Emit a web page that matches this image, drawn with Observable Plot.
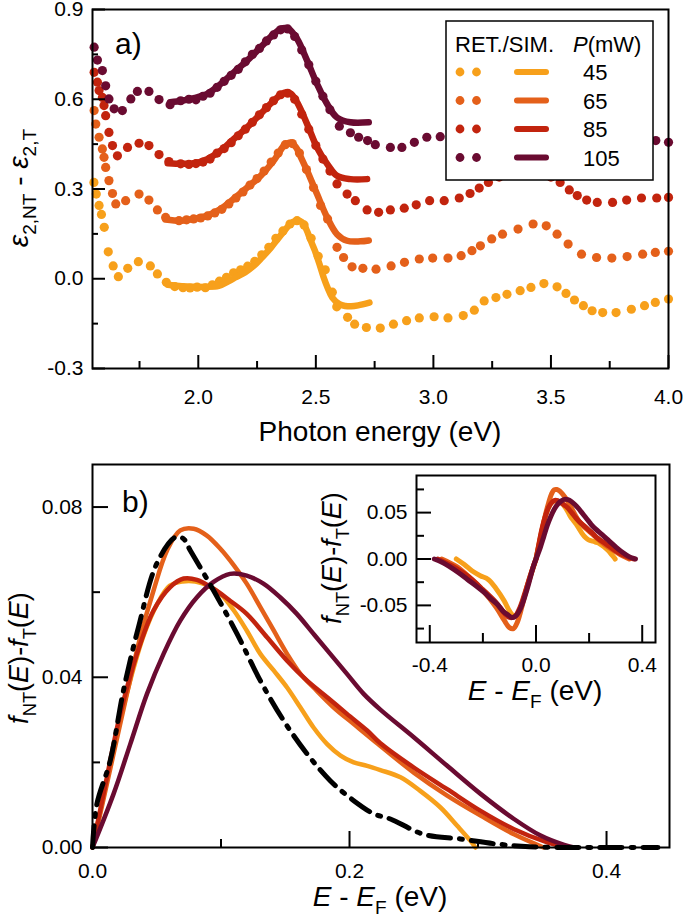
<!DOCTYPE html>
<html><head><meta charset="utf-8">
<script src="https://cdn.jsdelivr.net/npm/d3@7"></script>
<script src="https://cdn.jsdelivr.net/npm/@observablehq/plot@0.6"></script>
<style>
body{margin:0;background:#fff;}
#wrap{position:relative;width:685px;height:918px;overflow:hidden;}
#wrap svg{position:absolute;overflow:visible;max-width:none;}
</style></head><body><div id="wrap"></div>
<script>
const FONT = "'Liberation Sans', Arial, sans-serif";
const powers = ["45", "65", "85", "105"];
const colors = ["#f7a01b", "#e4601a", "#c2240e", "#6a0b31"];

// ---------- panel a: retrieved (dots) ----------
const aDots45 = [[1.556,0.322],[1.566,0.283],[1.578,0.245],[1.588,0.215],[1.600,0.172],[1.617,0.090],[1.638,0.043],[1.660,0.007],[1.700,0.035],[1.745,0.057],[1.796,0.043],[1.826,0.016],[1.864,-0.012],[1.900,-0.026],[1.935,-0.030],[1.965,-0.031],[1.995,-0.028],[2.030,-0.030],[2.060,-0.020],[2.090,-0.008],[2.120,0.005],[2.150,0.020],[2.180,0.030],[2.210,0.042],[2.240,0.058],[2.270,0.080],[2.300,0.105],[2.330,0.135],[2.360,0.160],[2.390,0.183],[2.420,0.194],[2.450,0.180],[2.480,0.135],[2.510,0.075],[2.540,0.030],[2.570,-0.045],[2.589,-0.094],[2.635,-0.129],[2.665,-0.152],[2.715,-0.163],[2.774,-0.165],[2.830,-0.152],[2.886,-0.140],[2.940,-0.131],[3.003,-0.127],[3.062,-0.131],[3.127,-0.123],[3.174,-0.105],[3.216,-0.074],[3.266,-0.063],[3.313,-0.052],[3.369,-0.040],[3.415,-0.029],[3.470,-0.016],[3.526,-0.027],[3.564,-0.049],[3.600,-0.071],[3.638,-0.090],[3.675,-0.107],[3.720,-0.113],[3.777,-0.113],[3.842,-0.102],[3.898,-0.090],[3.944,-0.079],[4.000,-0.068]];
const aDots65 = [[1.557,0.562],[1.564,0.517],[1.578,0.473],[1.592,0.434],[1.599,0.406],[1.606,0.372],[1.620,0.328],[1.635,0.285],[1.649,0.250],[1.691,0.261],[1.748,0.283],[1.790,0.263],[1.826,0.230],[1.861,0.205],[1.918,0.194],[1.950,0.197],[1.980,0.200],[2.010,0.203],[2.040,0.210],[2.070,0.220],[2.100,0.232],[2.130,0.250],[2.160,0.270],[2.190,0.290],[2.220,0.313],[2.250,0.335],[2.280,0.360],[2.310,0.390],[2.340,0.420],[2.370,0.448],[2.400,0.452],[2.430,0.420],[2.460,0.365],[2.490,0.305],[2.520,0.245],[2.550,0.200],[2.590,0.105],[2.618,0.071],[2.654,0.040],[2.700,0.035],[2.756,0.032],[2.820,0.043],[2.877,0.055],[2.940,0.066],[2.997,0.069],[3.062,0.069],[3.118,0.077],[3.164,0.094],[3.200,0.110],[3.248,0.133],[3.294,0.149],[3.360,0.166],[3.424,0.183],[3.480,0.177],[3.526,0.149],[3.573,0.116],[3.630,0.082],[3.694,0.071],[3.759,0.069],[3.824,0.074],[3.890,0.082],[3.944,0.088],[4.000,0.092]];
const aDots85 = [[1.557,0.690],[1.571,0.657],[1.578,0.629],[1.592,0.606],[1.599,0.579],[1.606,0.545],[1.620,0.489],[1.635,0.445],[1.656,0.411],[1.699,0.439],[1.748,0.453],[1.790,0.445],[1.833,0.415],[1.875,0.392],[1.925,0.384],[1.960,0.382],[1.990,0.385],[2.020,0.390],[2.050,0.400],[2.080,0.420],[2.110,0.435],[2.140,0.455],[2.170,0.478],[2.200,0.500],[2.230,0.523],[2.260,0.548],[2.290,0.572],[2.320,0.595],[2.350,0.615],[2.380,0.620],[2.410,0.600],[2.440,0.550],[2.470,0.500],[2.500,0.445],[2.530,0.400],[2.560,0.360],[2.590,0.317],[2.633,0.283],[2.668,0.261],[2.718,0.230],[2.767,0.222],[2.817,0.230],[2.876,0.236],[2.927,0.247],[2.984,0.261],[3.046,0.261],[3.110,0.270],[3.156,0.285],[3.195,0.303],[3.234,0.322],[3.280,0.340],[3.340,0.355],[3.400,0.360],[3.460,0.355],[3.500,0.340],[3.539,0.322],[3.578,0.297],[3.612,0.278],[3.652,0.263],[3.697,0.255],[3.762,0.255],[3.822,0.263],[3.885,0.270],[3.950,0.270],[4.000,0.272]];
const aDots105 = [[1.557,0.774],[1.571,0.731],[1.592,0.696],[1.606,0.645],[1.620,0.601],[1.642,0.568],[1.677,0.562],[1.713,0.601],[1.741,0.626],[1.790,0.626],[1.833,0.599],[1.880,0.582],[1.925,0.595],[1.960,0.600],[1.990,0.598],[2.020,0.610],[2.050,0.620],[2.080,0.640],[2.110,0.660],[2.140,0.680],[2.170,0.700],[2.200,0.725],[2.230,0.750],[2.260,0.770],[2.290,0.795],[2.320,0.815],[2.350,0.832],[2.380,0.835],[2.410,0.810],[2.440,0.765],[2.470,0.715],[2.500,0.660],[2.530,0.610],[2.560,0.565],[2.600,0.510],[2.647,0.488],[2.682,0.473],[2.720,0.462],[2.753,0.448],[2.817,0.439],[2.866,0.439],[2.919,0.456],[2.972,0.473],[3.029,0.475],[3.090,0.480],[3.150,0.490],[3.220,0.510],[3.300,0.530],[3.380,0.545],[3.450,0.545],[3.520,0.520],[3.600,0.480],[3.680,0.455],[3.760,0.450],[3.840,0.455],[3.900,0.460],[3.946,0.462],[4.000,0.456]];

// ---------- panel a: simulated (lines) ----------
const aSim45 = [[1.870,-0.020],[1.930,-0.025],[1.980,-0.027],[2.030,-0.027],[2.087,-0.024],[2.130,-0.008],[2.160,0.005],[2.200,0.022],[2.236,0.043],[2.270,0.070],[2.310,0.105],[2.340,0.135],[2.366,0.160],[2.385,0.178],[2.403,0.190],[2.425,0.195],[2.440,0.190],[2.459,0.166],[2.477,0.130],[2.496,0.094],[2.515,0.050],[2.533,0.005],[2.550,-0.030],[2.570,-0.063],[2.600,-0.085],[2.626,-0.091],[2.650,-0.092],[2.680,-0.089],[2.728,-0.080]];
const aSim65 = [[1.860,0.198],[1.930,0.194],[1.980,0.200],[2.038,0.211],[2.095,0.233],[2.151,0.267],[2.208,0.305],[2.265,0.344],[2.321,0.395],[2.350,0.430],[2.364,0.445],[2.380,0.453],[2.395,0.455],[2.410,0.445],[2.420,0.434],[2.440,0.400],[2.463,0.361],[2.505,0.283],[2.548,0.205],[2.590,0.149],[2.633,0.127],[2.689,0.125],[2.725,0.128]];
const aSim85 = [[1.870,0.386],[1.930,0.384],[1.981,0.386],[2.038,0.400],[2.095,0.428],[2.151,0.467],[2.208,0.506],[2.265,0.551],[2.321,0.595],[2.350,0.615],[2.375,0.623],[2.395,0.618],[2.420,0.590],[2.463,0.517],[2.505,0.439],[2.548,0.384],[2.590,0.344],[2.647,0.333],[2.718,0.333]];
const aSim105 = [[1.880,0.590],[1.930,0.595],[1.981,0.604],[2.038,0.618],[2.095,0.651],[2.151,0.690],[2.208,0.729],[2.265,0.774],[2.321,0.818],[2.350,0.835],[2.370,0.838],[2.385,0.835],[2.420,0.802],[2.463,0.729],[2.505,0.651],[2.548,0.584],[2.590,0.539],[2.647,0.523],[2.725,0.523]];

const aXDomain = [1.55, 4.0];
const aYDomain = [-0.3, 0.9];
const aXMajor = [2.0, 2.5, 3.0, 3.5, 4.0];
const aXMinor = [1.75, 2.25, 2.75, 3.25, 3.75];
const aYMajor = [-0.3, 0.0, 0.3, 0.6, 0.9];
const aYMinor = [-0.15, 0.15, 0.45, 0.75];

// ---------- panel b: f_NT - f_T ----------
const b45 = [[0,0],[0.005,0.007],[0.012,0.017],[0.020,0.028],[0.030,0.040],[0.040,0.050],[0.050,0.057],[0.060,0.0615],[0.070,0.0625],[0.080,0.0625],[0.090,0.0615],[0.0995,0.0596],[0.110,0.0557],[0.120,0.051],[0.1306,0.0455],[0.141,0.0416],[0.1514,0.0376],[0.1618,0.0329],[0.172,0.0282],[0.1826,0.0243],[0.193,0.0216],[0.2033,0.020],[0.2137,0.0192],[0.224,0.0182],[0.2397,0.0165],[0.255,0.0133],[0.2708,0.0094],[0.2838,0.0051],[0.294,0.0016],[0.298,0]];
const b65 = [[0,0],[0.006,0.0079],[0.0164,0.022],[0.0268,0.0361],[0.0371,0.0494],[0.0475,0.0604],[0.058,0.0698],[0.0683,0.0745],[0.0787,0.0749],[0.089,0.0733],[0.0995,0.0702],[0.110,0.0663],[0.120,0.062],[0.1306,0.0565],[0.141,0.051],[0.1514,0.0455],[0.1618,0.0408],[0.172,0.0376],[0.1877,0.0329],[0.2033,0.029],[0.219,0.0251],[0.250,0.0176],[0.276,0.0122],[0.302,0.0075],[0.328,0.0031],[0.351,0]];
const b85 = [[0,0],[0.0086,0.0126],[0.0216,0.0314],[0.0346,0.0455],[0.0475,0.0557],[0.0605,0.0612],[0.0709,0.0632],[0.0813,0.0629],[0.0942,0.0608],[0.107,0.058],[0.120,0.0549],[0.1358,0.0494],[0.1514,0.0439],[0.167,0.0392],[0.1826,0.0353],[0.198,0.0314],[0.2137,0.0275],[0.224,0.0245],[0.250,0.0188],[0.276,0.0137],[0.302,0.0086],[0.328,0.0043],[0.354,0.0012],[0.3695,0]];
const b105 = [[0,0],[0.0164,0.0126],[0.0294,0.0243],[0.0424,0.0361],[0.0553,0.0455],[0.0683,0.0533],[0.0813,0.0588],[0.0942,0.0624],[0.107,0.0643],[0.120,0.0639],[0.133,0.062],[0.146,0.0588],[0.159,0.0549],[0.172,0.0502],[0.185,0.0455],[0.198,0.0408],[0.211,0.0361],[0.224,0.0324],[0.250,0.0259],[0.276,0.0192],[0.302,0.0126],[0.328,0.0067],[0.3487,0.0028],[0.367,0.0006],[0.3746,0]];
const bThermal = [[0,0],[0.0034,0.0102],[0.0138,0.0204],[0.0241,0.0369],[0.0358,0.0518],[0.050,0.0667],[0.0644,0.0729],[0.0706,0.0726],[0.0761,0.0698],[0.0942,0.0604],[0.1125,0.0502],[0.1306,0.0392],[0.1488,0.0298],[0.167,0.022],[0.185,0.0157],[0.2033,0.011],[0.219,0.0079],[0.2318,0.0067],[0.2578,0.0031],[0.2864,0.002],[0.315,0.0008],[0.340,0.0002],[0.370,0],[0.440,0]];
const bXDomain = [0, 0.449];
const bYDomain = [0, 0.09];
const bXMajor = [0.0, 0.2, 0.4];
const bXMinor = [0.1, 0.3];
const bYMajor = [0.0, 0.04, 0.08];
const bYMinor = [0.02, 0.06];

// ---------- inset: negative energy side ----------
const in45neg = [[-0.300,0],[-0.270,-0.006],[-0.240,-0.013],[-0.210,-0.018],[-0.180,-0.022],[-0.150,-0.032],[-0.120,-0.045],[-0.100,-0.056],[-0.085,-0.061],[-0.070,-0.060],[-0.050,-0.046],[-0.030,-0.027],[-0.010,-0.009],[0,0]];
const in65neg = [[-0.355,0],[-0.300,-0.008],[-0.250,-0.020],[-0.200,-0.034],[-0.150,-0.052],[-0.120,-0.066],[-0.100,-0.074],[-0.085,-0.075],[-0.070,-0.068],[-0.050,-0.048],[-0.030,-0.026],[-0.010,-0.008],[0,0]];
const in85neg = [[-0.370,0],[-0.300,-0.010],[-0.250,-0.020],[-0.200,-0.033],[-0.150,-0.047],[-0.120,-0.058],[-0.100,-0.063],[-0.080,-0.062],[-0.060,-0.052],[-0.040,-0.035],[-0.020,-0.017],[0,0]];
const in105neg = [[-0.383,0],[-0.350,-0.004],[-0.321,-0.009],[-0.290,-0.015],[-0.258,-0.022],[-0.225,-0.029],[-0.195,-0.036],[-0.170,-0.043],[-0.145,-0.049],[-0.125,-0.056],[-0.107,-0.060],[-0.090,-0.063],[-0.075,-0.061],[-0.057,-0.0525],[-0.032,-0.031],[-0.010,-0.008],[0,0]];
const inXDomain = [-0.45, 0.45];
const inYDomain = [-0.09, 0.09];
const inXMajor = [-0.4, 0.0, 0.4];
const inXMinor = [-0.2, 0.2];
const inYMajor = [-0.05, 0.0, 0.05];
const inYMinor = [-0.075, -0.025, 0.025, 0.075];

// ---------- build tables ----------
const rows = (pairs, P) => pairs.map(([E, v]) => ({E, v, P}));
const aDots = [...rows(aDots45, "45"), ...rows(aDots65, "65"), ...rows(aDots85, "85"), ...rows(aDots105, "105")];
const aLines = [...rows(aSim45, "45"), ...rows(aSim65, "65"), ...rows(aSim85, "85"), ...rows(aSim105, "105")];
const bLines = [...rows(b45, "45"), ...rows(b65, "65"), ...rows(b85, "85"), ...rows(b105, "105")];
const bTh = rows(bThermal, "T");
const inLines = [
  ...rows(in45neg, "45"), ...rows(b45, "45"),
  ...rows(in65neg, "65"), ...rows(b65, "65"),
  ...rows(in85neg, "85"), ...rows(b85, "85"),
  ...rows(in105neg, "105"), ...rows(b105, "105")
];

const style = {fontFamily: FONT, fontSize: "21px", color: "black", background: "transparent", overflow: "visible"};
const color = {domain: powers, range: colors};
const TICK_FS = 21;
function axes(xMaj, xMin, yMaj, yMin, o) {
  return [
    Plot.axisY(yMaj, {anchor: "left", tickSize: -o.yMaj, strokeWidth: 2, tickFormat: () => "", label: null}),
    Plot.axisY(yMin, {anchor: "left", tickSize: -o.yMin, strokeWidth: 2, tickFormat: () => "", label: null}),
    Plot.axisX(xMaj, {anchor: "bottom", tickSize: -o.xMaj, strokeWidth: 2, tickFormat: () => "", label: null}),
    Plot.axisX(xMin, {anchor: "bottom", tickSize: -o.xMin, strokeWidth: 2, tickFormat: () => "", label: null}),
    // tick labels as text marks
    Plot.text(yMaj, {y: d => d, frameAnchor: "left", dx: -o.yPad, textAnchor: "end", text: o.yFmt, fontSize: TICK_FS, fill: "black"}),
    Plot.text(xMaj, {x: d => d, frameAnchor: "bottom", dy: o.xPad, lineAnchor: "top", text: o.xFmt, fontSize: TICK_FS, fill: "black"})
  ];
}
const fmt = n => d => (Math.abs(d) < 1e-9 ? 0 : d).toFixed(n);

const pA = Plot.plot({
  width: 685, height: 450,
  marginLeft: 92, marginRight: 17, marginTop: 9, marginBottom: 82,
  x: {domain: aXDomain, label: null},
  y: {domain: aYDomain, label: null},
  color, style,
  marks: [
    Plot.dot(aDots, {x: "E", y: "v", fill: "P", r: 4.6}),
    Plot.line(aLines, {x: "E", y: "v", stroke: "P", z: "P", strokeWidth: 6.5, curve: "catmull-rom"}),
    Plot.frame({stroke: "black", strokeWidth: 2}),
    ...axes(aXMajor, aXMinor, aYMajor, aYMinor, {yMaj: 13, yMin: 6, yPad: 9, xMaj: 13, xMin: 7, xPad: 21, yFmt: fmt(1), xFmt: fmt(1)})
  ]
});

const pB = Plot.plot({
  width: 685, height: 468,
  marginLeft: 92, marginRight: 16, marginTop: 14, marginBottom: 71,
  x: {domain: bXDomain, label: null},
  y: {domain: bYDomain, label: null},
  color, style,
  marks: [
    Plot.line(bLines, {x: "E", y: "v", stroke: "P", z: "P", strokeWidth: 4.5, curve: "catmull-rom"}),
    Plot.line(bTh, {x: "E", y: "v", stroke: "black", strokeWidth: 5, strokeDasharray: "22,9,3,9", curve: "catmull-rom"}),
    Plot.frame({stroke: "black", strokeWidth: 2}),
    ...axes(bXMajor, bXMinor, bYMajor, bYMinor, {yMaj: 16, yMin: 8, yPad: 10, xMaj: 16, xMin: 8, xPad: 16, yFmt: fmt(2), xFmt: fmt(1)})
  ]
});

const pI = Plot.plot({
  width: 385, height: 240,
  marginLeft: 116, marginRight: 30, marginTop: 15, marginBottom: 58,
  x: {domain: inXDomain, label: null},
  y: {domain: inYDomain, label: null},
  color, style,
  marks: [
    Plot.line(inLines, {x: "E", y: "v", stroke: "P", z: "P", strokeWidth: 5, curve: "catmull-rom"}),
    Plot.frame({stroke: "black", strokeWidth: 2}),
    ...axes(inXMajor, inXMinor, inYMajor, inYMinor, {yMaj: 15, yMin: 8, yPad: 9, xMaj: 17, xMin: 9, xPad: 15, yFmt: fmt(2), xFmt: fmt(1)})
  ]
});

const wrap = document.getElementById("wrap");
pA.style.left = "0px"; pA.style.top = "0px";
pB.style.left = "0px"; pB.style.top = "450px";
pI.style.left = "300px"; pI.style.top = "460px";
wrap.appendChild(pA); wrap.appendChild(pB); wrap.appendChild(pI);

// ---------- rich text helper ----------
function rich(svg, parts, {x, y, size, rotate = false, anchor = "middle"}) {
  const t = d3.select(svg).append("text")
    .attr("font-size", size).attr("text-anchor", anchor)
    .attr("fill", "black").attr("font-family", FONT);
  if (rotate) t.attr("transform", `translate(${x},${y}) rotate(-90)`);
  else t.attr("x", x).attr("y", y);
  let shift = 0;
  for (const p of parts) {
    const s = t.append("tspan").text(p.t);
    if (p.i) s.attr("font-style", "italic");
    const target = p.sub ? size * 0.3 : 0;
    if (target !== shift) { s.attr("dy", target - shift); shift = target; }
    if (p.sub) s.attr("font-size", size * 0.68);
  }
  return t;
}

// panel a labels
rich(pA, [{t: "a)"}], {x: 115, y: 54, size: 30, anchor: "start"});
rich(pA, [{t: "Photon energy (eV)"}], {x: 380, y: 441, size: 28});
rich(pA, [{t: "ε", i: true}, {t: "2,NT", sub: true}, {t: " - "}, {t: "ε", i: true}, {t: "2,T", sub: true}], {x: 28, y: 188, size: 28, rotate: true});

// panel b labels
rich(pB, [{t: "b)"}], {x: 122, y: 62, size: 30, anchor: "start"});
rich(pB, [{t: "E", i: true}, {t: " - "}, {t: "E", i: true}, {t: "F", sub: true}, {t: " (eV)"}], {x: 380, y: 456, size: 28});
const fLabel = [{t: "f", i: true}, {t: "NT", sub: true}, {t: "("}, {t: "E", i: true}, {t: ")-"}, {t: "f", i: true}, {t: "T", sub: true}, {t: "("}, {t: "E", i: true}, {t: ")"}];
rich(pB, fLabel, {x: 28, y: 208, size: 27, rotate: true});

// inset labels (inset svg coords: origin at page 300,460)
rich(pI, fLabel, {x: 41, y: 98, size: 27, rotate: true});
rich(pI, [{t: "E", i: true}, {t: " - "}, {t: "E", i: true}, {t: "F", sub: true}, {t: " (eV)"}], {x: 235, y: 240, size: 28});

// ---------- legend (panel a) ----------
const lg = d3.select(pA).append("g").attr("font-family", FONT).attr("font-size", 22).attr("text-anchor", "start");
lg.append("rect").attr("x", 446).attr("y", 21).attr("width", 207).attr("height", 159)
  .attr("fill", "white").attr("stroke", "black").attr("stroke-width", 1.5);
lg.append("text").attr("x", 455).attr("y", 52).attr("text-anchor", "start").text("RET./SIM.");
const ph = lg.append("text").attr("x", 573).attr("y", 52).attr("text-anchor", "start");
ph.append("tspan").attr("font-style", "italic").text("P");
ph.append("tspan").text("(mW)");
powers.forEach((p, i) => {
  const cy = 72 + i * 28.5;
  [460, 476.5].forEach(cx => lg.append("circle").attr("cx", cx).attr("cy", cy).attr("r", 4.4).attr("fill", colors[i]));
  lg.append("line").attr("x1", 517).attr("x2", 546).attr("y1", cy).attr("y2", cy)
    .attr("stroke", colors[i]).attr("stroke-width", 6).attr("stroke-linecap", "round");
  lg.append("text").attr("x", 583).attr("y", cy + 8).attr("text-anchor", "start").text(p);
});
</script></body></html>
